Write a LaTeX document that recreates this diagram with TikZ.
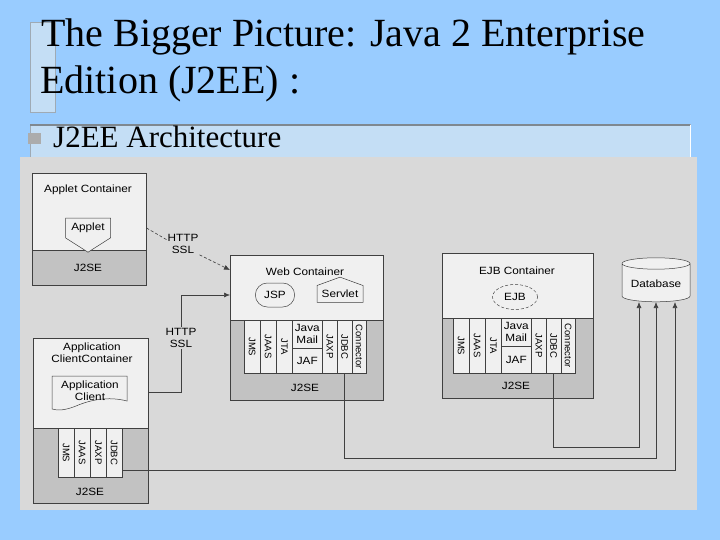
\documentclass[tikz,border=0pt]{standalone}
\usepackage{fontspec}
\setmainfont{Liberation Serif}
\newfontfamily\titlefont{Liberation Serif}
\newfontfamily\figfont[FakeStretch=1.12]{Liberation Sans}
\newfontfamily\figfontv{Liberation Sans}
\usepackage{tikz}
\usetikzlibrary{positioning,shapes,arrows.meta,calc}
\definecolor{slideblue}{HTML}{99CCFF}
\definecolor{boxblue}{HTML}{C4DEF5}
\definecolor{framegray}{HTML}{9FAAB4}
\definecolor{scangray}{HTML}{D9D9D9}
\definecolor{paper}{HTML}{F0F0F0}
\definecolor{bandgray}{HTML}{C2C2C2}
\definecolor{inkgray}{HTML}{404040}
\newcommand{\vlab}[1]{\rotatebox{-90}{\figfontv\fontsize{9.5}{11}\selectfont #1}}

\begin{document}
\begin{tikzpicture}[x=1pt, y=-1pt, font=\figfont\fontsize{10.5}{12}\selectfont,
  box/.style={draw=inkgray, line width=0.5pt, anchor=north west, inner sep=0pt},
  outerbox/.style={box, fill=bandgray},
  innerbox/.style={box, fill=paper},
  cell/.style={box, fill=paper},
  sig/.style={draw=inkgray, fill=paper, line width=0.5pt, signal, signal from=nowhere, signal pointer angle=130, inner sep=1pt},
  lbl/.style={inner sep=1pt, align=center},
  link/.style={draw=inkgray, line width=0.6pt},
  tip/.style={-{Latex[length=6pt,width=5pt]}}]
  % slide
  \fill[slideblue] (0,0) rectangle (720,540);
  \useasboundingbox (0,0) rectangle (720,540);
  \draw[framegray, fill=boxblue, line width=1pt] (30,23) rectangle (55,113);
  \node[anchor=base west, inner sep=0pt, font=\titlefont\fontsize{40}{46}\selectfont] (title1) at (41,47) {The Bigger Picture: Java 2 Enterprise};
  \node[anchor=base west, inner sep=0pt, font=\titlefont\fontsize{40}{46}\selectfont] (title2) at (40,94) {Edition (J2EE) :};
  \draw[framegray, fill=boxblue, line width=1pt] (30,125) rectangle (690,160);
  \draw[framegray!80!black, line width=1.5pt] (30,125) -- (690,125);
  \draw[white, line width=1pt] (690,125) -- (690,157);
  \fill[gray!65] (28,133) rectangle (41,144);
  \node[anchor=base west, inner sep=0pt, font=\titlefont\fontsize{31}{36}\selectfont] (subtitle) at (53,148) {J2EE Architecture};
  \fill[scangray] (20,157) rectangle (697,510);

  % applet container
  \node[outerbox, minimum width=114pt, minimum height=112pt] (appletbox) at (32,173) {};
  \node[innerbox, minimum width=114pt, minimum height=77pt] (appletcont) at (32,173) {};
  \node[lbl] (appletlab) at (88,190) {Applet Container};
  \node[sig, signal to=south, signal pointer angle=115, minimum width=45pt, minimum height=31pt] (applet) at (88,228) {Applet};
  \node[lbl] (appletse) at (88,268) {J2SE};

  % application client container
  \node[outerbox, minimum width=115pt, minimum height=165pt] (acbox) at (33,338) {};
  \node[innerbox, minimum width=115pt, minimum height=90pt] (accont) at (33,338) {};
  \node[lbl] (aclab) at (92,353) {Application\\ClientContainer};
  \filldraw[draw=inkgray, fill=paper, line width=0.5pt] (52,376) -- (127,376) -- (127,401)
    .. controls (108,396) and (90,400) .. (76,406) .. controls (66,410) and (58,411) .. (52,409) -- cycle;
  \node[lbl] (appclient) at (90,391) {Application\\Client};
  \foreach \lab/\dx in {JMS/0, JAAS/16, JAXP/32, JDBC/48}
    \node[cell, minimum width=16pt, minimum height=49pt] (ac-\lab) at (58+\dx,428) {\vlab{\lab}};
  \node[lbl] (acse) at (90,492) {J2SE};

  % web and ejb containers
  \node[outerbox, minimum width=153pt, minimum height=145pt] (webbox) at (230,255) {};
  \node[innerbox, minimum width=153pt, minimum height=65pt] (webcont) at (230,255) {};
  \node[lbl] (weblab) at (305,272) {Web Container};
  \node[draw=inkgray, fill=paper, line width=0.5pt, rounded rectangle, minimum width=46pt, minimum height=24pt] (jsp) at (275,295) {JSP};
  \node[sig, signal to=north, signal pointer angle=140, minimum width=46pt, minimum height=24pt] (servlet) at (340,294) {Servlet};
  \node[lbl] (webse) at (305,388) {J2SE};

  \node[outerbox, minimum width=151pt, minimum height=145pt] (ejbbox) at (442,253) {};
  \node[innerbox, minimum width=151pt, minimum height=65pt] (ejbcont) at (442,253) {};
  \node[lbl] (ejblab) at (517,271) {EJB Container};
  \node[draw=inkgray, fill=paper, line width=0.5pt, ellipse, densely dashed, minimum width=45pt, minimum height=25pt] (ejb) at (515,297) {EJB};
  \node[lbl] (ejbse) at (516,386) {J2SE};

  \foreach \pre/\xo/\yo/\h in {web/244/320/53, ejb/453/318/55}
  {
    \foreach \lab/\dx/\w in {JMS/0/16, JAAS/16/16, JTA/32/16, JAXP/78/15, JDBC/93/15, Connector/108/14}
      \node[cell, minimum width=\w pt, minimum height=\h pt] (\pre-\lab) at (\xo+\dx,\yo) {\vlab{\lab}};
    \node[cell, minimum width=30pt, minimum height=28pt, align=center] (\pre-mail) at (\xo+48,\yo) {Java\\Mail};
    \node[cell, minimum width=30pt, minimum height=\h pt-28pt] (\pre-jaf) at (\xo+48,\yo+28) {JAF};
  }

  % database
  \node[draw=inkgray, fill=paper, line width=0.5pt, cylinder, shape border rotate=90, aspect=0.2, minimum width=68pt, minimum height=44pt] (db) at (656,284) {Database};

  % links
  \node[lbl] (http1) at (183,244) {HTTP\\SSL};
  \node[lbl] (http2) at (181,338) {HTTP\\SSL};
  \draw[link, densely dashed] (applet -| appletcont.east) -- (http1.165);
  \draw[link, densely dashed, tip] (http1.south east) -- (webbox.west |- 0,270);
  \draw[link] (acbox.east |- 0,392) -| (http2.south);
  \draw[link, tip] (http2.north) |- (webbox.west |- 0,295);
  \draw[link, tip] ([yshift=7pt]ac-JDBC.south east) -| ([xshift=19pt]db.south);
  \draw[link, tip] (web-JDBC.south) -- ++(0,85) -| (db.south);
  \draw[link, tip] (ejb-JDBC.south) -- ++(0,74) -| ([xshift=-17pt]db.south);
\end{tikzpicture}
\end{document}
